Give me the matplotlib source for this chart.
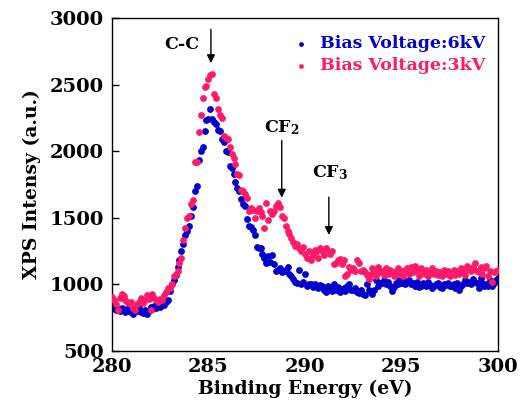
import numpy as np
import matplotlib
matplotlib.use("Agg")
import matplotlib.pyplot as plt

plt.rcParams['font.family'] = ['DejaVu Serif']
plt.rcParams['font.weight'] = 'bold'
plt.rcParams['mathtext.fontset'] = 'dejavuserif'

energy = np.round(np.arange(280.0, 300.05, 0.1), 1)

intensity_6kv = [
    820, 830, 805, 815, 800, 825, 810, 795, 815, 800,
    790, 780, 810, 800, 820, 795, 785, 810, 780, 800,
    830, 815, 840, 825, 850, 830, 860, 845, 870, 880,
    950, 1000, 1030, 1070, 1130, 1180, 1250, 1300, 1370, 1400,
    1440, 1510, 1580, 1700, 1740, 1930, 2000, 2030, 2150, 2230,
    2240, 2320, 2240, 2220, 2200, 2160, 2150, 2090, 2070, 2000,
    1990, 1890, 1870, 1830, 1770, 1720, 1700, 1640, 1600, 1590,
    1490, 1440, 1430, 1410, 1370, 1280, 1270, 1270, 1230, 1200,
    1160, 1210, 1170, 1220, 1150, 1100, 1110, 1120, 1090, 1100,
    1110, 1130, 1080, 1060, 1040, 1020, 1010, 1110, 1000, 1020,
    1080, 990, 1000, 1000, 980, 1000, 990, 970, 995, 985,
    960, 940, 990, 970, 950, 1000, 960, 980, 940, 960,
    975, 950, 990, 1000, 960, 955, 970, 940, 935, 960,
    930, 920, 1000, 960, 945, 930, 960, 1030, 990, 1010,
    1010, 1030, 1000, 1020, 990, 950, 980, 1010, 1000, 1030,
    1010, 1040, 1000, 1020, 1030, 1000, 1010, 990, 1020, 980,
    985, 1010, 1000, 990, 1020, 995, 970, 990, 1000, 1010,
    980, 975, 1000, 995, 1010, 985, 990, 1000, 970, 1010,
    960, 990, 1000, 1030, 1010, 1020, 1000, 1040, 1020, 1010,
    970, 1050, 1010, 990, 1000, 985, 1030, 990, 1010, 1030,
    1045,
]

intensity_3kv = [
    905, 880, 850, 810, 900, 930, 910, 880, 870, 860,
    870, 820, 810, 850, 870, 900, 860, 880, 920, 890,
    810, 930, 900, 880, 870, 890, 880, 920, 940, 970,
    970, 1000, 1060, 1080, 1100, 1160, 1200, 1330, 1420, 1500,
    1510, 1600, 1630, 1920, 1920, 2140, 2270, 2400, 2480, 2490,
    2540, 2570, 2580, 2430, 2400, 2320, 2270, 2250, 2110, 2100,
    2090, 2030, 1980, 1950, 1900, 1830, 1820, 1710, 1700, 1680,
    1650, 1550, 1570, 1560, 1500, 1550, 1570, 1540, 1510, 1420,
    1610, 1480, 1550, 1530, 1550, 1590, 1610, 1580, 1510, 1500,
    1440, 1400, 1380, 1350, 1320, 1290, 1300, 1270, 1250, 1280,
    1230, 1200, 1250, 1180, 1220, 1260, 1240, 1200, 1270, 1250,
    1220, 1270, 1250, 1230, 1250, 1150, 1160, 1180, 1190, 1150,
    1180, 1060, 1080, 1130, 1110, 1120, 1100, 1180, 1160, 1100,
    1110, 1090, 1070, 1040, 1080, 1120, 1100, 1060, 1130, 1090,
    1100, 1070, 1120, 1080, 1110, 1090, 1060, 1100, 1120, 1080,
    1100, 1060, 1110, 1120, 1080, 1130, 1090, 1140, 1100, 1060,
    1120, 1100, 1080, 1110, 1060, 1090, 1120, 1080, 1100, 1070,
    1090, 1060, 1110, 1080, 1100, 1060, 1090, 1110, 1070, 1100,
    1080, 1120, 1100, 1070, 1140, 1110, 1100, 1130, 1160, 1100,
    1090, 1130, 1080, 1120, 1140, 1060, 1100, 1020, 1090, 1100,
    1110,
]

labels = ["Bias Voltage:6kV", "Bias Voltage:3kV"]
colors = ["#0000CC", "#FF1A6A"]

xticks = [280, 285, 290, 295, 300]
yticks = [500, 1000, 1500, 2000, 2500, 3000]

fig = plt.figure(figsize=(5.23, 4.08), dpi=100)
ax = fig.add_axes([0.214, 0.140, 0.738, 0.816])

ax.scatter(energy, intensity_6kv, s=24, color=colors[0], label=labels[0], zorder=2, linewidths=0)
ax.scatter(energy, intensity_3kv, s=24, color=colors[1], label=labels[1], zorder=3, linewidths=0)

ax.set_xlim(280, 300)
ax.set_ylim(500, 3000)
ax.set_xticks(xticks)
ax.set_yticks(yticks)
ax.tick_params(axis='x', length=0, labelsize=14, pad=5)
ax.tick_params(axis='y', direction='in', length=5, width=1, labelsize=14, pad=6)
for lab in ax.get_xticklabels() + ax.get_yticklabels():
    lab.set_fontweight('bold')
for sp in ax.spines.values():
    sp.set_linewidth(1.0)

ax.set_xlabel("Binding Energy (eV)", fontsize=13.5, fontweight='bold', labelpad=3)
ax.set_ylabel("XPS Intensy (a.u.)", fontsize=13.5, fontweight='bold', labelpad=6)

leg = ax.legend(loc='upper right', frameon=False, fontsize=12.5, markerscale=0.7,
                handletextpad=0.6, borderaxespad=0.3, labelspacing=0.3,
                handlelength=1.0, bbox_to_anchor=(1.0, 0.985))
for txt, c in zip(leg.get_texts(), colors):
    txt.set_color(c)
    txt.set_fontweight('bold')

arrow = dict(arrowstyle='-|>', color='black', lw=1.0, mutation_scale=12)
ax.annotate("", xy=(285.13, 2640), xytext=(285.13, 2935), arrowprops=arrow)
ax.text(283.6, 2797, "C-C", ha='center', va='center', fontsize=12.5, fontweight='bold')
ax.annotate("", xy=(288.8, 1630), xytext=(288.8, 2100), arrowprops=arrow)
ax.text(288.8, 2180, r"CF$_\mathbf{2}$", ha='center', va='center', fontsize=12.5, fontweight='bold')
ax.annotate("", xy=(291.24, 1350), xytext=(291.24, 1675), arrowprops=arrow)
ax.text(291.3, 1840, r"CF$_\mathbf{3}$", ha='center', va='center', fontsize=12.5, fontweight='bold')

fig.savefig("out.png", dpi=100)
